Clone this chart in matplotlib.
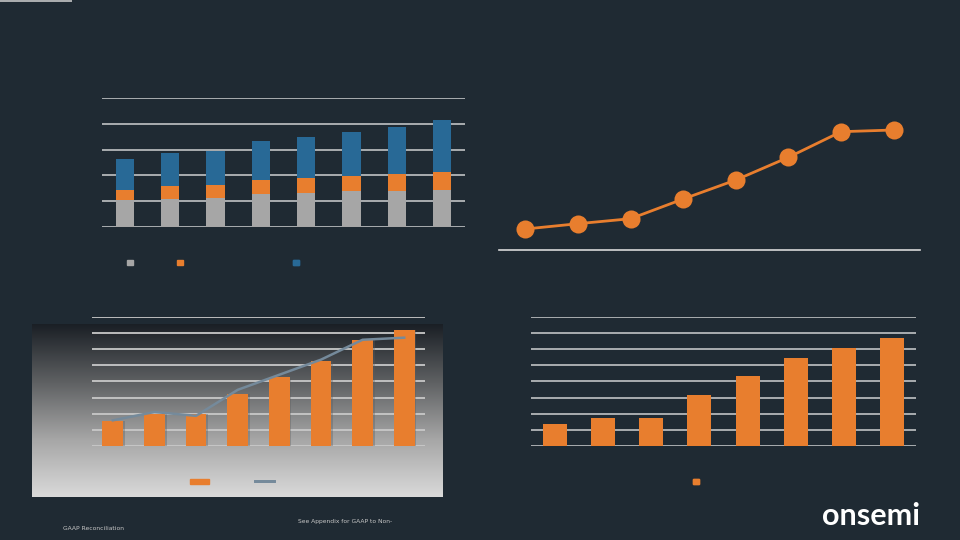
import numpy as np
import matplotlib
matplotlib.use("Agg")
import matplotlib.pyplot as plt
from matplotlib.patches import Patch
from matplotlib.lines import Line2D
from matplotlib.colors import LinearSegmentedColormap

# --- data (arbitrary units) ---
periods = ["Q1", "Q2", "Q3", "Q4", "Q5", "Q6", "Q7", "Q8"]

# top left: stacked bars
seg_gray = [1.05, 1.09, 1.14, 1.27, 1.33, 1.38, 1.38, 1.42]
seg_orange = [0.40, 0.50, 0.49, 0.54, 0.58, 0.61, 0.69, 0.72]
seg_blue = [1.17, 1.29, 1.33, 1.52, 1.58, 1.69, 1.82, 2.02]

# top right: line with big markers
line_vals = [21.0, 26.3, 31.3, 51.0, 70.0, 92.7, 118.3, 120.0]

# bottom left: bars + line on gradient panel
bl_bars = [1.54, 1.98, 1.96, 3.23, 4.25, 5.29, 6.58, 7.19]
bl_line = [1.58, 2.10, 1.86, 3.48, 4.42, 5.36, 6.60, 6.73]

# bottom right: bars
br_bars = [1.33, 1.73, 1.73, 3.13, 4.33, 5.44, 6.10, 6.69]

BG = "#1f2a33"
ORANGE = "#e87e2e"
GRAY = "#a6a6a6"
BLUE = "#286996"
GRID = "#b4b7ba"

W, H = 960, 540
fig = plt.figure(figsize=(9.6, 5.4), dpi=100, facecolor=BG)


def px_axes(x0, y0, x1, y1, **kw):
    # pixel box (top-left origin) -> figure axes
    return fig.add_axes([x0 / W, 1 - y1 / H, (x1 - x0) / W, (y1 - y0) / H], **kw)


def clean(ax):
    ax.set_facecolor("none")
    for s in ax.spines.values():
        s.set_visible(False)
    ax.tick_params(left=False, bottom=False, labelleft=False, labelbottom=False)


def key(ax, handle, x, y, length=1):
    lg = ax.legend([handle], [""], loc="center", bbox_to_anchor=(x, y),
                   bbox_transform=fig.transFigure, frameon=False, fontsize=4,
                   handlelength=length, handleheight=1, handletextpad=0,
                   borderpad=0, borderaxespad=0)
    ax.add_artist(lg)
    return lg


x = np.arange(len(periods))

# thin light line at the very top left
top = px_axes(0, 0, 72, 2)
clean(top)
top.axhline(0.5, color="#a9acae", lw=1.5)
top.set_ylim(0, 1)

# ---- top left: stacked bars ----
ax1 = px_axes(102, 98, 465, 227)
clean(ax1)
ax1.set_xlim(-0.5, 7.5)
ax1.set_ylim(0, 5)
ax1.set_yticks(range(6))
ax1.grid(axis="y", color=GRID, lw=1.3)
ax1.set_axisbelow(True)
b0 = np.array(seg_gray)
b1 = b0 + np.array(seg_orange)
ax1.bar(x, seg_gray, width=0.4, color=GRAY, zorder=3)
ax1.bar(x, seg_orange, bottom=b0, width=0.4, color=ORANGE, zorder=3)
ax1.bar(x, seg_blue, bottom=b1, width=0.4, color=BLUE, zorder=3)
key(ax1, Patch(color=GRAY), 130 / W, 1 - 263 / H)
key(ax1, Patch(color=ORANGE), 180 / W, 1 - 263 / H)
key(ax1, Patch(color=BLUE), 296 / W, 1 - 263 / H)

# ---- top right: line ----
ax2 = px_axes(499, 90, 920, 250)
clean(ax2)
ax2.spines["bottom"].set_visible(True)
ax2.spines["bottom"].set_color("#d9d9d9")
ax2.spines["bottom"].set_linewidth(1.2)
ax2.set_xlim(-0.5, 7.5)
ax2.set_ylim(0, 160)
ax2.plot(x, line_vals, color=ORANGE, lw=2, marker="o", markersize=13,
         markeredgewidth=0, clip_on=False)

# ---- bottom left: gradient panel ----
panel = px_axes(32, 324, 443, 497)
panel.set_axis_off()
cmap = LinearSegmentedColormap.from_list("g", ["#1a1f25", "#5e6062", "#a6a6a6", "#dadada"])
panel.imshow(np.linspace(0, 1, 256).reshape(-1, 1), aspect="auto", cmap=cmap,
             extent=(0, 1, 0, 1))
panel.set_zorder(0)

ax3 = px_axes(92, 317.3, 425, 445.7)
clean(ax3)
ax3.set_zorder(1)
ax3.set_xlim(-0.5, 7.5)
ax3.set_ylim(0, 8)
ax3.set_yticks(range(9))
ax3.grid(axis="y", color="#c8c8c8", lw=1.3)
ax3.set_axisbelow(True)
ax3.bar(x + 0.04, bl_bars, width=0.5, color="#5c5c5c", alpha=0.35, zorder=2)
ax3.bar(x, bl_bars, width=0.5, color=ORANGE, zorder=3)
ax3.plot(x, bl_line, color="#758a9b", lw=1.8, zorder=4)
lg_bar = key(ax3, Patch(color=ORANGE), 199.5 / W, 1 - 481.5 / H)
# orange rectangle key is wider than tall
lg_bar.legend_handles[0].set_width(13.7)
lg_bar.legend_handles[0].set_x(-4.85)
key(ax3, Line2D([], [], color="#758a9b", lw=2), 264.5 / W, 1 - 481.5 / H, length=3.5)

# ---- bottom right: bars ----
ax4 = px_axes(531, 317.3, 916, 445.7)
clean(ax4)
ax4.set_xlim(-0.5, 7.5)
ax4.set_ylim(0, 8)
ax4.set_yticks(range(9))
ax4.grid(axis="y", color=GRID, lw=1.3)
ax4.set_axisbelow(True)
ax4.bar(x, br_bars, width=0.5, color=ORANGE, zorder=3)
key(ax4, Patch(color=ORANGE), 696 / W, 1 - 482 / H)

# ---- footnote and logo ----
fig.text(298 / W, 1 - 522 / H, "See Appendix for GAAP to Non-", color="#c8c8c8",
         fontsize=4.3, va="center", ha="left")
fig.text(63 / W, 1 - 529 / H, "GAAP Reconciliation", color="#c8c8c8",
         fontsize=4.3, va="center", ha="left")
fig.text(822 / W, 1 - 516 / H, "onsemi", color="white", fontsize=22,
         fontfamily="Lato", fontweight="bold", va="center", ha="left")

fig.savefig("out.png", dpi=100, facecolor=BG)
